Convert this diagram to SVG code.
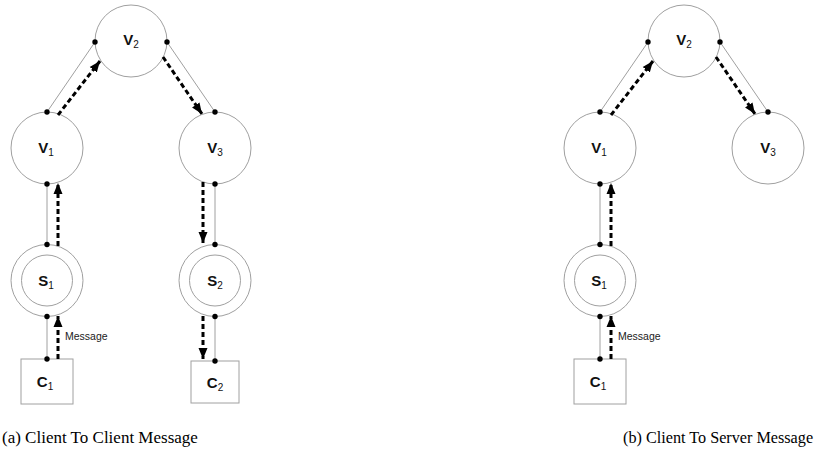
<svg xmlns="http://www.w3.org/2000/svg" width="817" height="461" viewBox="0 0 817 461">
<defs>
<style>
.nd{fill:#fff;stroke:#a0a0a0;stroke-width:1}
.ln{stroke:#a0a0a0;stroke-width:1;fill:none}
.ds{stroke:#000;stroke-width:3;stroke-dasharray:5 3;fill:none;marker-end:url(#ah)}
.dt{fill:#000}
.lb{font-family:"Liberation Sans",Arial,sans-serif;font-size:15px;font-weight:bold;fill:#111;text-anchor:middle}
.sb{font-size:10px;font-weight:normal}
.msg{font-family:"Liberation Sans",Arial,sans-serif;font-size:10.5px;fill:#222}
.cap{font-family:"Liberation Serif","Times New Roman",serif;font-size:17px;fill:#000}
</style>
<marker id="ah" markerUnits="userSpaceOnUse" markerWidth="12" markerHeight="12" viewBox="0 0 12 12" refX="11" refY="6" orient="auto">
<path d="M0,1.5 L11,6 L0,10.5 Z" fill="#000"/>
</marker>
</defs>
<rect width="817" height="461" fill="#fff"/>

<!-- Panel (a) -->
<g id="a-V2"><circle class="nd" cx="131" cy="41" r="36"/><text class="lb" x="131" y="45">V<tspan class="sb" dy="3">2</tspan></text></g>
<g id="a-V1"><circle class="nd" cx="47" cy="148" r="36"/><text class="lb" x="46" y="153">V<tspan class="sb" dy="3">1</tspan></text></g>
<g id="a-V3"><circle class="nd" cx="215" cy="148" r="36"/><text class="lb" x="215" y="153">V<tspan class="sb" dy="3">3</tspan></text></g>
<g id="a-S1"><circle class="nd" cx="47" cy="280.5" r="36"/><circle class="nd" cx="47" cy="280.5" r="25.5"/><text class="lb" x="46" y="285.5">S<tspan class="sb" dy="3">1</tspan></text></g>
<g id="a-S2"><circle class="nd" cx="215" cy="280.5" r="36"/><circle class="nd" cx="215" cy="280.5" r="25.5"/><text class="lb" x="215" y="285.5">S<tspan class="sb" dy="3">2</tspan></text></g>
<g id="a-C1"><rect class="nd" x="21" y="359" width="52" height="45"/><text class="lb" x="45" y="387">C<tspan class="sb" dy="3">1</tspan></text></g>
<g id="a-C2"><rect class="nd" x="191" y="361" width="48" height="42"/><text class="lb" x="215" y="388">C<tspan class="sb" dy="3">2</tspan></text></g>

<g id="a-connectors">
<line class="ln" x1="95" y1="42" x2="47" y2="112"/>
<line class="ln" x1="167" y1="42" x2="215" y2="112"/>
<line class="ln" x1="47" y1="184" x2="47" y2="244.5"/>
<line class="ln" x1="47" y1="316.5" x2="47" y2="359"/>
<line class="ln" x1="215" y1="184" x2="215" y2="244.5"/>
<line class="ln" x1="215" y1="316.5" x2="215" y2="361"/>
<line class="ds" x1="58" y1="115" x2="100" y2="61"/>
<line class="ds" x1="163" y1="57" x2="202" y2="114"/>
<line class="ds" x1="58" y1="246" x2="58" y2="183"/>
<line class="ds" x1="58" y1="359" x2="58" y2="316"/>
<line class="ds" x1="203" y1="182" x2="203" y2="243"/>
<line class="ds" x1="203" y1="316" x2="203" y2="359"/>
<circle class="dt" cx="95" cy="42" r="2.7"/>
<circle class="dt" cx="167" cy="42" r="2.7"/>
<circle class="dt" cx="47" cy="112" r="2.7"/>
<circle class="dt" cx="47" cy="184" r="2.7"/>
<circle class="dt" cx="215" cy="112" r="2.7"/>
<circle class="dt" cx="215" cy="184" r="2.7"/>
<circle class="dt" cx="47" cy="244.5" r="2.7"/>
<circle class="dt" cx="47" cy="316.5" r="2.7"/>
<circle class="dt" cx="215" cy="244.5" r="2.7"/>
<circle class="dt" cx="215" cy="316.5" r="2.7"/>
<circle class="dt" cx="47" cy="359" r="2.7"/>
<circle class="dt" cx="215" cy="361" r="2.7"/>
<text class="msg" x="65" y="340">Message</text>
</g>

<!-- Panel (b) -->
<g id="b-V2"><circle class="nd" cx="684" cy="41" r="36"/><text class="lb" x="684" y="45">V<tspan class="sb" dy="3">2</tspan></text></g>
<g id="b-V1"><circle class="nd" cx="600" cy="148" r="36"/><text class="lb" x="599" y="153">V<tspan class="sb" dy="3">1</tspan></text></g>
<g id="b-V3"><circle class="nd" cx="768" cy="148" r="36"/><text class="lb" x="768" y="153">V<tspan class="sb" dy="3">3</tspan></text></g>
<g id="b-S1"><circle class="nd" cx="600" cy="280.5" r="36"/><circle class="nd" cx="600" cy="280.5" r="25.5"/><text class="lb" x="599" y="285.5">S<tspan class="sb" dy="3">1</tspan></text></g>
<g id="b-C1"><rect class="nd" x="574" y="359" width="52" height="45"/><text class="lb" x="598" y="387">C<tspan class="sb" dy="3">1</tspan></text></g>

<g id="b-connectors">
<line class="ln" x1="648" y1="42" x2="600" y2="112"/>
<line class="ln" x1="720" y1="42" x2="768" y2="112"/>
<line class="ln" x1="600" y1="184" x2="600" y2="244.5"/>
<line class="ln" x1="600" y1="316.5" x2="600" y2="359"/>
<line class="ds" x1="611" y1="115" x2="653" y2="61"/>
<line class="ds" x1="716" y1="57" x2="755" y2="114"/>
<line class="ds" x1="611" y1="246" x2="611" y2="183"/>
<line class="ds" x1="611" y1="359" x2="611" y2="316"/>
<circle class="dt" cx="648" cy="42" r="2.7"/>
<circle class="dt" cx="720" cy="42" r="2.7"/>
<circle class="dt" cx="600" cy="112" r="2.7"/>
<circle class="dt" cx="600" cy="184" r="2.7"/>
<circle class="dt" cx="768" cy="112" r="2.7"/>
<circle class="dt" cx="600" cy="244.5" r="2.7"/>
<circle class="dt" cx="600" cy="316.5" r="2.7"/>
<circle class="dt" cx="600" cy="359" r="2.7"/>
<text class="msg" x="618" y="340">Message</text>
</g>

<text class="cap" x="2" y="443">(a) Client To Client Message</text>
<text class="cap" x="623" y="443" style="font-size:16.2px">(b) Client To Server Message</text>
</svg>
